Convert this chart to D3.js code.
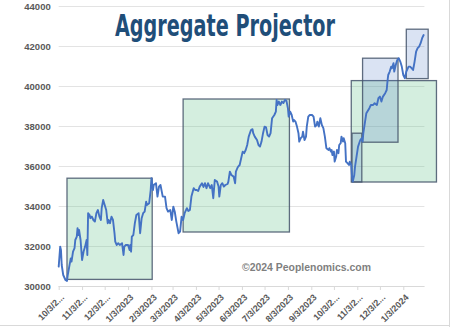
<!DOCTYPE html>
<html>
<head>
<meta charset="utf-8">
<script src="https://cdn.jsdelivr.net/npm/d3@7"></script>
<style>
  html, body { margin: 0; padding: 0; background: #ffffff; }
  svg { display: block; }
</style>
</head>
<body>
<svg id="chart" width="450" height="327"></svg>
<script>
// Aggregate index level, daily closes (sampled)
const dates = [
  "2022-10-03","2022-10-05","2022-10-06","2022-10-07","2022-10-09","2022-10-12","2022-10-14","2022-10-15","2022-10-17","2022-10-19",
  "2022-10-20","2022-10-22","2022-10-24","2022-10-25","2022-10-27","2022-10-28","2022-10-29","2022-10-30","2022-11-01","2022-11-03",
  "2022-11-05","2022-11-07","2022-11-09","2022-11-10","2022-11-11","2022-11-13","2022-11-14","2022-11-16","2022-11-18","2022-11-20",
  "2022-11-22","2022-11-24","2022-11-26","2022-11-28","2022-11-29","2022-12-01","2022-12-03","2022-12-05","2022-12-07","2022-12-08",
  "2022-12-10","2022-12-12","2022-12-14","2022-12-16","2022-12-17","2022-12-19","2022-12-21","2022-12-23","2022-12-26","2022-12-28",
  "2022-12-29","2022-12-31","2023-01-03","2023-01-05","2023-01-06","2023-01-07","2023-01-08","2023-01-10","2023-01-12","2023-01-14",
  "2023-01-17","2023-01-19","2023-01-21","2023-01-23","2023-01-25","2023-01-27","2023-01-28","2023-01-31","2023-02-02","2023-02-03",
  "2023-02-05","2023-02-06","2023-02-09","2023-02-11","2023-02-13","2023-02-15","2023-02-18","2023-02-21","2023-02-23","2023-02-25",
  "2023-02-28","2023-03-02","2023-03-04","2023-03-06","2023-03-08","2023-03-11","2023-03-13","2023-03-15","2023-03-17","2023-03-19",
  "2023-03-22","2023-03-24","2023-03-26","2023-03-28","2023-03-31","2023-04-02","2023-04-04","2023-04-06","2023-04-08","2023-04-11",
  "2023-04-13","2023-04-15","2023-04-17","2023-04-19","2023-04-22","2023-04-24","2023-04-26","2023-04-28","2023-05-01","2023-05-03",
  "2023-05-04","2023-05-06","2023-05-08","2023-05-10","2023-05-12","2023-05-15","2023-05-16","2023-05-18","2023-05-20","2023-05-23",
  "2023-05-25","2023-05-26","2023-05-28","2023-05-29","2023-05-31","2023-06-02","2023-06-04","2023-06-06","2023-06-08","2023-06-10",
  "2023-06-12","2023-06-15","2023-06-17","2023-06-18","2023-06-20","2023-06-23","2023-06-25","2023-06-27","2023-06-29","2023-07-01",
  "2023-07-03","2023-07-05","2023-07-07","2023-07-09","2023-07-11","2023-07-13","2023-07-16","2023-07-18","2023-07-19","2023-07-20",
  "2023-07-22","2023-07-24","2023-07-26","2023-07-28","2023-07-30","2023-08-01","2023-08-03","2023-08-04","2023-08-06","2023-08-08",
  "2023-08-10","2023-08-11","2023-08-13","2023-08-15","2023-08-17","2023-08-18","2023-08-20","2023-08-22","2023-08-23","2023-08-25",
  "2023-08-27","2023-08-28","2023-08-30","2023-09-01","2023-09-04","2023-09-06","2023-09-08","2023-09-10","2023-09-11","2023-09-13",
  "2023-09-15","2023-09-17","2023-09-19","2023-09-21","2023-09-23","2023-09-26","2023-09-27","2023-09-29","2023-09-30","2023-10-01",
  "2023-10-03","2023-10-04","2023-10-06","2023-10-07","2023-10-09","2023-10-10","2023-10-12","2023-10-13","2023-10-15","2023-10-16",
  "2023-10-18","2023-10-19","2023-10-21","2023-10-23","2023-10-24","2023-10-26","2023-10-27","2023-10-28","2023-10-30","2023-10-31",
  "2023-11-02","2023-11-04","2023-11-07","2023-11-09","2023-11-10","2023-11-11","2023-11-13","2023-11-15","2023-11-19","2023-11-21",
  "2023-11-24","2023-11-26","2023-11-29","2023-12-01","2023-12-03","2023-12-05","2023-12-07","2023-12-10","2023-12-12","2023-12-13",
  "2023-12-14","2023-12-16","2023-12-18","2023-12-19","2023-12-21","2023-12-22","2023-12-24","2023-12-26","2023-12-28","2023-12-30",
  "2024-01-01","2024-01-03","2024-01-05","2024-01-07","2024-01-10","2024-01-12","2024-01-14","2024-01-16","2024-01-18","2024-01-20",
  "2024-01-22","2024-01-24","2024-01-26","2024-01-28","2024-01-30"
];
const values = [
  30970,31970,31800,31050,30550,30300,30250,30550,30970,31380,
  31220,31720,31890,32300,32470,32890,32550,32800,32300,31300,
  31720,31970,32300,31550,33640,33550,33390,33470,33300,33220,
  33640,33800,33470,33300,33890,34300,34050,33800,33140,33300,
  33140,33470,33300,32640,32220,32050,32140,32050,32140,31550,
  31970,32050,32050,31800,32050,31720,32470,32550,33140,33550,
  33640,32640,33390,33640,33720,34220,34050,34140,34800,35390,
  34800,35050,35140,34470,34970,35050,34470,34470,33890,33720,
  33800,33300,33970,33700,33220,32640,32720,33470,33300,33640,
  33890,33750,33800,34470,34890,34800,34800,34750,34970,35140,
  34950,35140,34890,35140,34890,35050,34390,35300,35220,34970,
  34470,35050,35140,34970,35050,35100,35220,35720,35550,35470,
  35140,35720,35900,35970,36050,36390,36720,36640,36800,37050,
  37470,37800,37840,37640,37470,37300,37050,36970,37220,37640,
  37970,37930,37550,37470,37640,38390,38550,38720,39300,39050,
  39220,39050,39220,39150,39300,39270,38890,38470,38720,38550,
  38220,38300,38220,37970,37640,37220,37390,37470,37720,37300,
  37470,37970,38470,38550,38550,38470,37970,38050,38220,37970,
  38390,38050,37890,37470,36890,36800,36890,36720,36800,36550,
  36720,36220,36470,36800,36640,37050,37140,37470,37220,37390,
  37140,36220,36140,36050,36220,36050,35470,35220,35550,35970,
  36470,36970,37300,37390,37220,37640,38140,38640,38890,39050,
  39050,39140,39050,39390,39470,39220,39470,39640,39800,40220,
  40550,40720,40970,40890,41140,40720,41050,41300,41390,41220,
  40970,40550,40390,40720,40970,40970,40890,40800,41220,41720,
  41890,41970,42140,42390,42550
];

// Projection boxes: date span and value band
const boxStart = ["2022-10-14", "2023-03-17", "2023-10-26", "2023-10-27", "2023-11-10", "2024-01-07"];
const boxEnd   = ["2023-02-04", "2023-08-05", "2024-02-16", "2023-11-09", "2023-12-27", "2024-02-05"];
const boxLow   = [30330, 32700, 35200, 35200, 37190, 40370];
const boxHigh  = [35390, 39350, 40270, 37640, 41390, 42840];
const boxKind  = ["green", "green", "green", "blue", "blue", "blue"];

// Axis ticks
const yTicks = [30000, 32000, 34000, 36000, 38000, 40000, 42000, 44000];
const xTickLabels = [
  "10/3/2022","11/3/2022","12/3/2022","1/3/2023","2/3/2023","3/3/2023","4/3/2023","5/3/2023",
  "6/3/2023","7/3/2023","8/3/2023","9/3/2023","10/3/2023","11/3/2023","12/3/2023","1/3/2024"
];
const axisStart = "2022-10-03";
const axisEnd = "2024-01-31";

const titleText = "Aggregate Projector";
const creditText = "\u00A92024 Peoplenomics.com";

const parseISO = d3.timeParse("%Y-%m-%d");
const parseUS = d3.timeParse("%m/%d/%Y");

const series = dates.map((d, i) => ({ date: parseISO(d), value: values[i] }));
const boxes = boxStart.map((s, i) => ({
  start: parseISO(s), end: parseISO(boxEnd[i]),
  low: boxLow[i], high: boxHigh[i], kind: boxKind[i]
}));

const svg = d3.select("#chart");

const x = d3.scaleTime()
  .domain([parseISO(axisStart), parseISO(axisEnd)])
  .range([58.7, 424.4]);
const y = d3.scaleLinear()
  .domain([30000, 44000])
  .range([286, 6]);

// Outer chart frame (right and bottom edges)
svg.append("line").attr("x1", 449.5).attr("x2", 449.5).attr("y1", 0).attr("y2", 327)
  .attr("stroke", "#d9d9d9").attr("stroke-width", 1);
svg.append("line").attr("x1", 0).attr("x2", 450).attr("y1", 325.5).attr("y2", 325.5)
  .attr("stroke", "#d9d9d9").attr("stroke-width", 1);

// Horizontal gridlines and value labels
const yAxis = d3.axisLeft(y)
  .tickValues(yTicks)
  .tickSize(-(x.range()[1] - x.range()[0]))
  .tickPadding(8)
  .tickFormat(d3.format("d"));
const gy = svg.append("g")
  .attr("transform", `translate(${x.range()[0]},0)`)
  .call(yAxis);
gy.select(".domain").remove();
gy.selectAll(".tick line").attr("stroke", "#e3e3e3").attr("stroke-width", 1);
gy.selectAll(".tick text")
  .attr("fill", "#595959")
  .style("font-family", "'Liberation Sans', Arial, sans-serif")
  .style("font-size", "9.5px")
  .style("font-weight", "bold");

// Date axis along the bottom
const xTickDates = xTickLabels.map(parseUS);
const shortLabel = s => (s.length > 8 ? s.slice(0, 6) + "..." : s);
const xAxis = d3.axisBottom(x)
  .tickValues(xTickDates)
  .tickSize(4)
  .tickFormat((d, i) => shortLabel(xTickLabels[i]));
const gx = svg.append("g")
  .attr("transform", `translate(0,${y(30000)})`)
  .call(xAxis);
gx.select(".domain").attr("stroke", "#d9d9d9").attr("d", `M${x.range()[0]},0.5H${x.range()[1]}`);
gx.selectAll(".tick line").attr("stroke", "#d9d9d9");
gx.selectAll(".tick text")
  .attr("fill", "#595959")
  .attr("text-anchor", "end")
  .attr("x", 0).attr("y", 0).attr("dy", 0)
  .attr("transform", "translate(5.5,12) rotate(-45)")
  .style("font-family", "'Liberation Sans', Arial, sans-serif")
  .style("font-size", "9px")
  .style("font-weight", "bold");

// Projection boxes (green bands first, blue bands on top)
const fills = { green: "rgba(112, 200, 150, 0.30)", blue: "rgba(68, 114, 196, 0.20)" };
svg.append("g").selectAll("rect")
  .data(boxes.filter(b => b.kind === "green").concat(boxes.filter(b => b.kind === "blue")))
  .join("rect")
  .attr("x", d => x(d.start))
  .attr("y", d => y(d.high))
  .attr("width", d => x(d.end) - x(d.start))
  .attr("height", d => y(d.low) - y(d.high))
  .attr("fill", d => fills[d.kind])
  .attr("stroke", "#44546a")
  .attr("stroke-opacity", 0.85)
  .attr("stroke-width", 1.3);

// Index line
const line = d3.line()
  .x(d => x(d.date))
  .y(d => y(d.value));
svg.append("path")
  .datum(series)
  .attr("d", line)
  .attr("fill", "none")
  .attr("stroke", "#4472c4")
  .attr("stroke-width", 1.9)
  .attr("stroke-linejoin", "round")
  .attr("stroke-linecap", "round");

// Title
svg.append("text")
  .attr("x", 225).attr("y", 36)
  .attr("text-anchor", "middle")
  .attr("textLength", 220)
  .attr("lengthAdjust", "spacingAndGlyphs")
  .attr("fill", "#1f4e79")
  .style("font-family", "'Liberation Sans Narrow', 'DejaVu Sans Condensed', sans-serif")
  .style("font-size", "31px")
  .style("font-weight", "bold")
  .text(titleText);

// Credit line
svg.append("text")
  .attr("x", 242).attr("y", 271)
  .attr("textLength", 129)
  .attr("lengthAdjust", "spacingAndGlyphs")
  .attr("fill", "#7f7f7f")
  .style("font-family", "'Liberation Sans', Arial, sans-serif")
  .style("font-size", "11px")
  .style("font-weight", "bold")
  .text(creditText);
</script>
</body>
</html>
